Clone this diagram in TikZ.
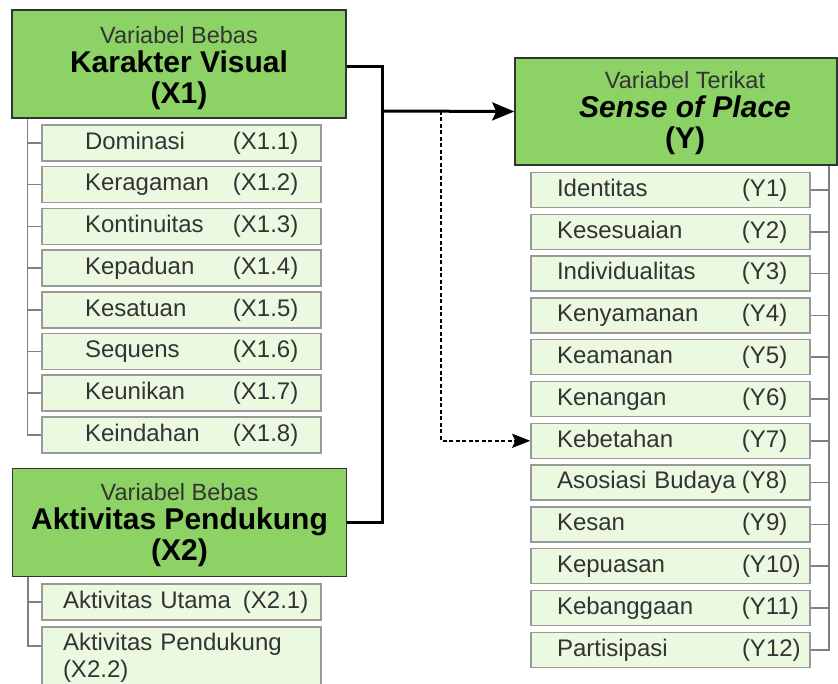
\documentclass[tikz,border=0pt]{standalone}
\usepackage{fontspec}
\setmainfont{Liberation Sans}
\usetikzlibrary{arrows.meta}
\definecolor{titlegreen}{HTML}{8CD264}
\definecolor{itemgreen}{HTML}{EBF9E1}
\definecolor{textgray}{HTML}{333333}
\newcommand{\itemfont}{\fontsize{24}{27}\selectfont}
\newcommand{\headsmall}{\fontsize{23.5}{26}\selectfont\mdseries\color{textgray}}
\newcommand{\headbig}{\fontsize{30}{31}\selectfont\bfseries}
\tikzstyle{varbox} = [draw=black!80, line width=1.5pt, fill=titlegreen,
  minimum width=334, minimum height=108, inner sep=0pt]
\tikzstyle{vartext} = [align=center, inner sep=0pt, font=\headbig]
\tikzstyle{subbox} = [draw=black!40, line width=1.5pt, fill=itemgreen,
  minimum width=279, minimum height=36, inner xsep=10pt, inner ysep=0pt,
  text width=259pt, align=left, text=textgray, font=\itemfont]
\tikzstyle{treeline} = [draw=black!50, line width=1.5pt]
\tikzstyle{conn} = [line width=3pt]
\tikzstyle{dashconn} = [line width=2.5pt, dash pattern=on 4pt off 2.5pt,
  -{Stealth[length=18pt, width=14pt, inset=3pt]}]

\begin{document}
\begin{tikzpicture}[x=1pt, y=-1pt]
    \useasboundingbox (0,0) rectangle (838,684);
    \clip (0,0) rectangle (838,684);

    % variabel bebas X1
    \node[varbox] (x1) at (179,64) {};
    \node[vartext] (x1t) at (179,68)
        {{\headsmall Variabel Bebas}\\[-2pt]Karakter Visual\\(X1)};
    \foreach \nm/\cd [count=\i] in {Dominasi/X1.1, Keragaman/X1.2,
        Kontinuitas/X1.3, Kepaduan/X1.4, Kesatuan/X1.5, Sequens/X1.6,
        Keunikan/X1.7, Keindahan/X1.8}
        \node[subbox] (x1-\i) at (181.5,101.3+41.7*\i)
            {\hspace*{33pt}\nm\hfill\makebox[78pt][l]{(\cd)}};
    \draw[treeline] ([xshift=16pt]x1.south west) |- (x1-8.west);
    \foreach \i in {1,...,7}
        \draw[treeline] (x1-\i.west) -- ++(-14,0);

    % variabel bebas X2
    \node[varbox] (x2) at (179.5,522.5) {};
    \node[vartext] (x2t) at (179.5,525)
        {{\headsmall Variabel Bebas}\\[-2pt]Aktivitas Pendukung\\(X2)};
    \node[subbox] (x2-1) at (181.5,602)
        {\hspace*{11pt}Aktivitas Utama\hfill\makebox[68pt][l]{(X2.1)}};
    \node[subbox, anchor=north, minimum height=62, inner xsep=21pt,
        text width=237pt] (x2-2) at (181.5,626)
        {Aktivitas Pendukung\\(X2.2)};
    \draw[treeline] ([xshift=16pt]x2.south west) |- ([yshift=12pt]x2-2.west);
    \draw[treeline] (x2-1.west) -- ++(-14,0);

    % variabel terikat Y
    \node[varbox, minimum width=322, minimum height=107] (ybox) at (676,111.5) {};
    \node[vartext] (yt) at (685,113)
        {{\headsmall Variabel Terikat}\\[-2pt]\textit{Sense of Place}\\(Y)};
    \foreach \nm/\cd [count=\i] in {Identitas/Y1, Kesesuaian/Y2,
        Individualitas/Y3, Kenyamanan/Y4, Keamanan/Y5, Kenangan/Y6,
        Kebetahan/Y7, Asosiasi Budaya/Y8, Kesan/Y9, Kepuasan/Y10,
        Kebanggaan/Y11, Partisipasi/Y12}
        \node[subbox, minimum height=35] (y-\i) at (670.5,148.2+41.8*\i)
            {\hspace*{16pt}\nm\hfill\makebox[58pt][l]{(\cd)}};
    \draw[treeline] ([xshift=-9pt]ybox.south east) |- (y-12.east);
    \foreach \i in {1,...,11}
        \draw[treeline] (y-\i.east) -- ++(18,0);

    % hubungan antar variabel
    \coordinate (jn) at (382,111);
    \coordinate (dj) at (441,111);
    \draw[conn] ([yshift=-3pt]x1.east) -| (jn) |- (x2.east);
    \draw[conn, -{Stealth[length=22pt, width=18pt, inset=4pt]}] (jn) -- (ybox.west);
    \draw[dashconn] (dj) |- (y-7.west);
\end{tikzpicture}
\end{document}
